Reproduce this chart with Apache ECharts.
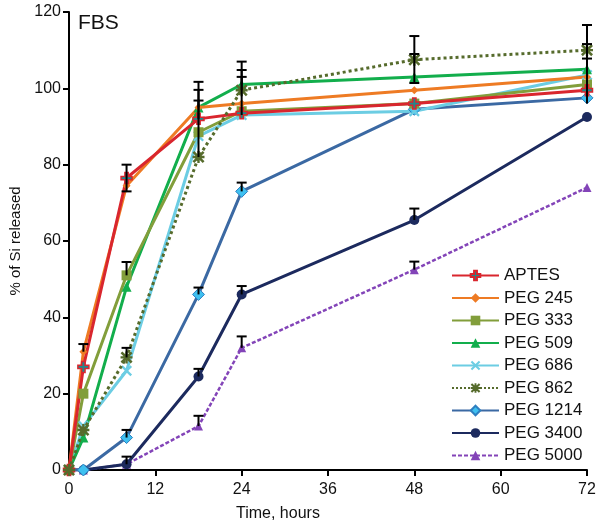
<!DOCTYPE html>
<html>
<head>
<meta charset="utf-8">
<script src="https://cdn.jsdelivr.net/npm/echarts@6/dist/echarts.min.js"></script>
<style>
  html, body { margin: 0; padding: 0; background: #fff; }
  #chart { width: 600px; height: 530px; }
</style>
</head>
<body>
<div id="chart"></div>
<script>
// time points (hours)
const hours = [0, 2, 8, 18, 24, 48, 72]

const aptes = [0, 27, 76.5, 92, 93.5, 96, 99.5]
const peg245 = [0, 31, 74.5, 95, 96, 99.5, 103]
const peg333 = [0, 20, 51, 88.5, 94, 96, 101]
const peg509 = [0, 8.5, 48, 95, 101, 103, 105]
const peg686 = [0, 11.5, 26, 87.5, 93, 94, 103.5]
const peg862 = [0, 10.5, 29.5, 82, 99.5, 107.5, 110]
const peg1214 = [0, 0, 8.5, 46, 73, 94.5, 97.5]
const peg3400 = [0, 0, 1.5, 24.5, 46, 65.5, 92.5]
const peg5000 = [0, 0, 1.5, 11.5, 32, 52.5, 74]

// error bars: [hour, from, to] -> cap drawn at "to"
const errorBars = [
  [2, 31, 33], [8, 76.5, 80], [8, 76.5, 73], [8, 51, 54.5], [8, 29.5, 32],
  [8, 8.5, 10.5], [8, 1.5, 3.5],
  [18, 82, 101.7], [18, 95, 99.6], [18, 92, 96.8], [18, 46, 47.8], [18, 24.5, 26.5], [18, 11.5, 14.2],
  [24, 93, 107], [24, 99.5, 104.8], [24, 101, 103], [24, 73, 75.3], [24, 46, 48.2], [24, 32, 35],
  [48, 101.4, 113.7], [48, 107.5, 109], [48, 101.4, 101.4], [48, 65.5, 68.5], [48, 52.5, 54.6],
  [72, 96, 116.6], [72, 110, 111.6], [72, 103, 107.8]
]

const plusPath = 'path://M3.5,0H6.5V3.5H10V6.5H6.5V10H3.5V6.5H0V3.5H3.5Z'
const crossPath = 'path://M0,1.5L1.5,0L5,3.5L8.5,0L10,1.5L6.5,5L10,8.5L8.5,10L5,6.5L1.5,10L0,8.5L3.5,5Z'
const starPath = 'path://M0,1.5L1.5,0L5,3.5L8.5,0L10,1.5L6.5,5L10,8.5L8.5,10L5,6.5L1.5,10L0,8.5L3.5,5Z' +
  'M4,0H6V4H10V6H6V10H4V6H0V4H4Z'

function pairs(vals) {
  return hours.map((h, i) => [h, vals[i]])
}

function line(name, vals, color, symbol, size, opts = {}) {
  return {
    name: name,
    type: 'line',
    data: pairs(vals),
    symbol: symbol,
    symbolSize: size,
    showAllSymbol: true,
    lineStyle: { color: color, width: opts.width || 3, type: opts.type || 'solid' },
    itemStyle: {
      color: opts.markerColor || color,
      borderColor: opts.borderColor || opts.markerColor || color,
      borderWidth: opts.borderWidth || 0
    },
    emphasis: { disabled: true },
    animation: false,
    z: opts.z || 2
  }
}

const chart = echarts.init(document.getElementById('chart'))
const font = 'Liberation Sans, Arial, sans-serif'

chart.setOption({
  backgroundColor: '#fff',
  animation: false,
  grid: { left: 64, right: 13, top: 12, bottom: 60 },
  xAxis: {
    type: 'value',
    min: 0,
    max: 72,
    interval: 12,
    axisLine: { show: true, onZero: false, lineStyle: { color: '#000', width: 2 } },
    axisTick: { show: true, inside: false, length: 6, lineStyle: { color: '#000', width: 2 } },
    axisLabel: { color: '#111', fontSize: 16, fontFamily: font, margin: 12 },
    splitLine: { show: false }
  },
  yAxis: {
    type: 'value',
    min: 0,
    max: 120,
    interval: 20,
    name: '% of Si released',
    nameLocation: 'middle',
    nameGap: 46,
    nameTextStyle: { color: '#111', fontSize: 15, fontFamily: font },
    axisLine: { show: true, lineStyle: { color: '#000', width: 2 } },
    axisTick: { show: true, inside: false, length: 6, lineStyle: { color: '#000', width: 2 } },
    axisLabel: { color: '#111', fontSize: 16, fontFamily: font, margin: 8 },
    splitLine: { show: false }
  },
  legend: {
    orient: 'vertical',
    left: 446,
    top: 262,
    itemWidth: 47,
    itemHeight: 12,
    itemGap: 5.5,
    textStyle: { color: '#111', fontSize: 17, fontFamily: font },
    data: ['APTES', 'PEG 245', 'PEG 333', 'PEG 509', 'PEG 686', 'PEG 862', 'PEG 1214', 'PEG 3400', 'PEG 5000']
  },
  graphic: [
    { type: 'text', left: 78, top: 13, style: { text: 'FBS', fill: '#111', font: '21px ' + font } },
    { type: 'text', left: 236, top: 506, style: { text: 'Time, hours', fill: '#111', font: '16px ' + font } }
  ],
  series: [
    line('PEG 5000', peg5000, '#8344B8', 'triangle', 9, { type: [4, 2], width: 2.5 }),
    line('PEG 3400', peg3400, '#1C2A5E', 'circle', 10),
    line('PEG 1214', peg1214, '#3B69A3', 'diamond', 12, { markerColor: '#3EC0F0', borderColor: '#2E7FC0', borderWidth: 1 }),
    line('PEG 862', peg862, '#566B2C', starPath, 12, { type: 'dotted', width: 3, z: 4 }),
    line('PEG 686', peg686, '#6CCDE3', crossPath, 11),
    line('PEG 509', peg509, '#12AE4C', 'triangle', 10),
    line('PEG 333', peg333, '#829E3B', 'rect', 10),
    line('PEG 245', peg245, '#EE7B24', 'diamond', 8),
    line('APTES', aptes, '#D9262E', plusPath, 11, { markerColor: '#1E8A8C', borderColor: '#D9262E', borderWidth: 1.5 }),
    {
      type: 'custom',
      data: errorBars,
      z: 5,
      silent: true,
      animation: false,
      renderItem: function(params, api) {
        const p0 = api.coord([api.value(0), api.value(1)])
        const p1 = api.coord([api.value(0), api.value(2)])
        const style = { stroke: '#000', lineWidth: 2 }
        return {
          type: 'group',
          children: [
            { type: 'line', shape: { x1: p0[0], y1: p0[1], x2: p1[0], y2: p1[1] }, style: style },
            { type: 'line', shape: { x1: p1[0] - 5, y1: p1[1], x2: p1[0] + 5, y2: p1[1] }, style: style }
          ]
        }
      },
      encode: { x: 0, y: [1, 2] }
    }
  ]
})
</script>
</body>
</html>
